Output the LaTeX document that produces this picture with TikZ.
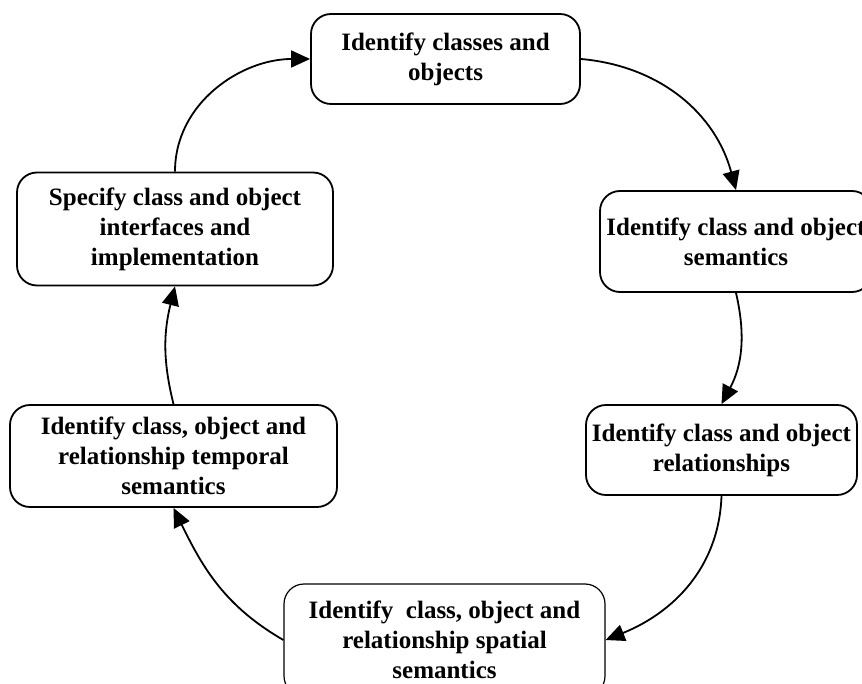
\documentclass[tikz,border=0pt]{standalone}
\usepackage{fontspec}
\setmainfont{Liberation Serif}
\usetikzlibrary{arrows.meta}
\begin{document}
\begin{tikzpicture}[x=1pt,y=-1pt,
  stagebox/.style={draw=black, line width=1.8pt, rounded corners=20pt,
    fill=white, align=center, inner sep=0pt,
    font=\fontsize{25}{30}\selectfont\bfseries},
  flow/.style={draw=black, line width=1.8pt,
    -{Triangle[length=19pt,width=17pt]}}]
  \useasboundingbox (0,0) rectangle (862,684);
  \clip (0,0) rectangle (862,684);
  % process stages
  \node[stagebox, minimum width=269pt, minimum height=90pt] (b1) at (445.5,59)
    {Identify classes and\\objects};
  \node[stagebox, minimum width=272pt, minimum height=101pt] (b2) at (736,241.5)
    {Identify class and object\\semantics};
  \node[stagebox, minimum width=271pt, minimum height=90pt] (b3) at (721.5,450)
    {Identify class and object\\relationships};
  \node[stagebox, line width=1.2pt, minimum width=321pt, minimum height=112pt] (b4) at (444.5,640)
    {Identify\ \ class, object and\\relationship spatial\\semantics};
  \node[stagebox, minimum width=327pt, minimum height=102pt] (b5) at (173.5,456)
    {Identify class, object and\\relationship temporal\\semantics};
  \node[stagebox, minimum width=316pt, minimum height=113pt] (b6) at (175,229)
    {Specify class and object\\interfaces and\\implementation};
  % cycle connectors
  \draw[flow] (b1.east) to[out=-5,in=105] (b2.north);
  \draw[flow] (b2.south) to[out=-77,in=62] (b3.north);
  \draw[flow] (b3.south) to[out=-92,in=22] (b4.east);
  \draw[flow] (b4.west) to[out=150,in=-64] (b5.south);
  \draw[flow] (b5.north) to[out=104,in=-104] (b6.south);
  \draw[flow] (b6.north) to[out=90,in=180] (b1.west);
\end{tikzpicture}
\end{document}
